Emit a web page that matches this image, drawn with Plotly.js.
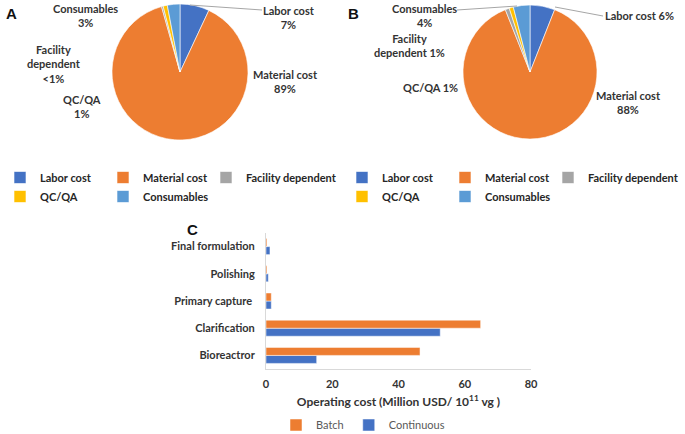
<!DOCTYPE html>
<html>
<head>
<meta charset="utf-8">
<script src="https://cdn.plot.ly/plotly-3.0.1.min.js"></script>
<style>
  html, body { margin: 0; padding: 0; background: #fff; width: 685px; height: 434px; overflow: hidden; }
  #barC { position: absolute; left: 0; top: 205px; width: 685px; height: 229px; z-index: 0; }
  #pieA { position: absolute; left: 0; top: 0; width: 342px; height: 212px; z-index: 1; }
  #pieB { position: absolute; left: 342px; top: 0; width: 343px; height: 212px; z-index: 1; }
</style>
</head>
<body>
<div id="barC"></div>
<div id="pieA"></div>
<div id="pieB"></div>
<script>
// ---- Data ----
const costCategories = ["Labor cost", "Material cost", "Facility dependent", "QC/QA", "Consumables"];
const pieColors = ["#4472C4", "#ED7D31", "#A5A5A5", "#FFC000", "#5B9BD5"];
const batchShares = [7, 89, 0.4, 1, 3];
const continuousShares = [6, 88, 1, 1, 4];
const labelTextA = ["Labor cost<br>7%", "Material cost<br>89%", "Facility<br>dependent<br>&lt;1%", "QC/QA<br>1%", "Consumables<br>3%"];
const labelTextB = ["Labor cost 6%", "Material cost<br>88%", "Facility<br>dependent 1%", "QC/QA 1%", "Consumables<br>4%"];

const steps = ["Bioreactror", "Clarification", "Primary capture ", "Polishing", "Final formulation"];
const batchCost = [46.5, 64.8, 1.6, 0.3, 0.3];
const continuousCost = [15.3, 52.6, 1.6, 0.7, 1.2];
const xTicks = [0, 20, 40, 60, 80];

// ---- Styling ----
const FONT = "Lato, 'Open Sans', sans-serif";
const txt = {family: FONT, size: 11, color: "#333333", weight: "bold"};
const cfg = {staticPlot: true, displayModeBar: false};
const H = 212; // pie panel height in px

function unclipLegend(div) {
  div.querySelectorAll(".legend .scrollbox").forEach(e => e.removeAttribute("clip-path"));
}

// helpers converting panel pixel positions to paper fractions
function piePanel(div, values, labelTexts, labelPx, panelLetter, linesPx, domPx) {
  const W = div.offsetWidth;
  const fx = v => v / W, fy = v => 1 - v / H;
  const trace = {
    type: "pie",
    labels: costCategories,
    values: values,
    sort: false,
    direction: "clockwise",
    rotation: 0,
    textinfo: "none",
    hoverinfo: "none",
    marker: {colors: pieColors, line: {color: "#ffffff", width: 0.6}},
    domain: {x: [fx(domPx[0]), fx(domPx[1])], y: [fy(domPx[3]), fy(domPx[2])]}
  };
  const annotations = labelTexts.map((t, i) => ({
    text: t, x: fx(labelPx[i][0]), y: fy(labelPx[i][1]), xref: "paper", yref: "paper",
    xanchor: "center", yanchor: "middle", showarrow: false, font: txt, align: "center"
  }));
  annotations.push({text: panelLetter, x: fx(4), y: fy(3), xref: "paper", yref: "paper",
    xanchor: "left", yanchor: "top", showarrow: false,
    font: {family: "Liberation Sans, Arial, sans-serif", size: 15, color: "#111", weight: "bold"}});
  const shapes = linesPx.map(l => ({type: "line", xref: "paper", yref: "paper",
    x0: fx(l[0]), y0: fy(l[1]), x1: fx(l[2]), y1: fy(l[3]), line: {color: "#a6a6a6", width: 1}}));
  const layout = {
    width: W, height: H,
    margin: {l: 0, r: 0, t: 0, b: 0},
    paper_bgcolor: "rgba(0,0,0,0)",
    showlegend: true,
    legend: {orientation: "h", x: 0.0, xanchor: "left", y: fy(163), yanchor: "top",
      bgcolor: "rgba(0,0,0,0)",
      entrywidth: 58, font: {family: FONT, size: 11, color: "#262626", weight: "bold"},
      tracegroupgap: 0},
    annotations: annotations,
    shapes: shapes
  };
  Plotly.newPlot(div, [trace], layout, cfg).then(() => unclipLegend(div));
}

// Pie A: pixel positions inside the 342-px panel
piePanel(document.getElementById("pieA"), batchShares, labelTextA,
  [[289, 17], [285, 81], [54, 64], [82, 106], [85, 15]],
  "A",
  [[190, 5, 262, 10]],
  [112, 248, 4, 140]);

// Pie B: pixel positions inside the 343-px panel
piePanel(document.getElementById("pieB"), continuousShares, labelTextB,
  [[297, 15], [286, 102], [67, 45], [88, 87], [82, 15]],
  "B",
  [[115, 10, 175, 6], [213, 7, 261, 16]],
  [121, 255, 5, 139]);

// Bar chart C
const barTraces = [
  {type: "bar", orientation: "h", name: "Continuous", y: steps, x: continuousCost,
   marker: {color: "#4472C4", line: {color: "#ffffff", width: 0.5}}, hoverinfo: "none"},
  {type: "bar", orientation: "h", name: "Batch", y: steps, x: batchCost,
   marker: {color: "#ED7D31", line: {color: "#ffffff", width: 0.5}}, hoverinfo: "none"}
];
const barLayout = {
  width: 685, height: 229,
  margin: {l: 266, r: 154, t: 28, b: 65},
  paper_bgcolor: "#fff", plot_bgcolor: "#fff",
  barmode: "group", bargap: 0.41, bargroupgap: 0,
  xaxis: {range: [0, 80], tickvals: xTicks, ticktext: xTicks.map(String),
    showgrid: false, zeroline: false, showline: true, linecolor: "#d9d9d9", linewidth: 1,
    ticks: "", tickfont: txt, ticklabelstandoff: 5, automargin: false,
    title: {text: "Operating cost (Million USD/ 10<sup>11</sup> vg )", font: {family: FONT, size: 12, color: "#333333", weight: "bold"}, standoff: 8}},
  yaxis: {type: "category", categoryorder: "array", categoryarray: steps, range: [-0.5, 4.5],
    showgrid: false, zeroline: false, showline: true, linecolor: "#d9d9d9", linewidth: 1,
    ticks: "", tickfont: txt, ticklabelstandoff: 8, automargin: false},
  showlegend: true,
  legend: {orientation: "h", traceorder: "reversed", xref: "container", yref: "container",
    x: 363 / 685, xanchor: "center", y: 9 / 229, yanchor: "middle",
    font: {family: FONT, size: 11, color: "#595959"}},
  annotations: [{text: "C", x: (185 - 266) / 265, y: 1 + 4 / 136, xref: "paper", yref: "paper",
    xanchor: "left", yanchor: "middle", showarrow: false,
    font: {family: "Liberation Sans, Arial, sans-serif", size: 15, color: "#111", weight: "bold"}}]
};
Plotly.newPlot("barC", barTraces, barLayout, cfg);
</script>
</body>
</html>
